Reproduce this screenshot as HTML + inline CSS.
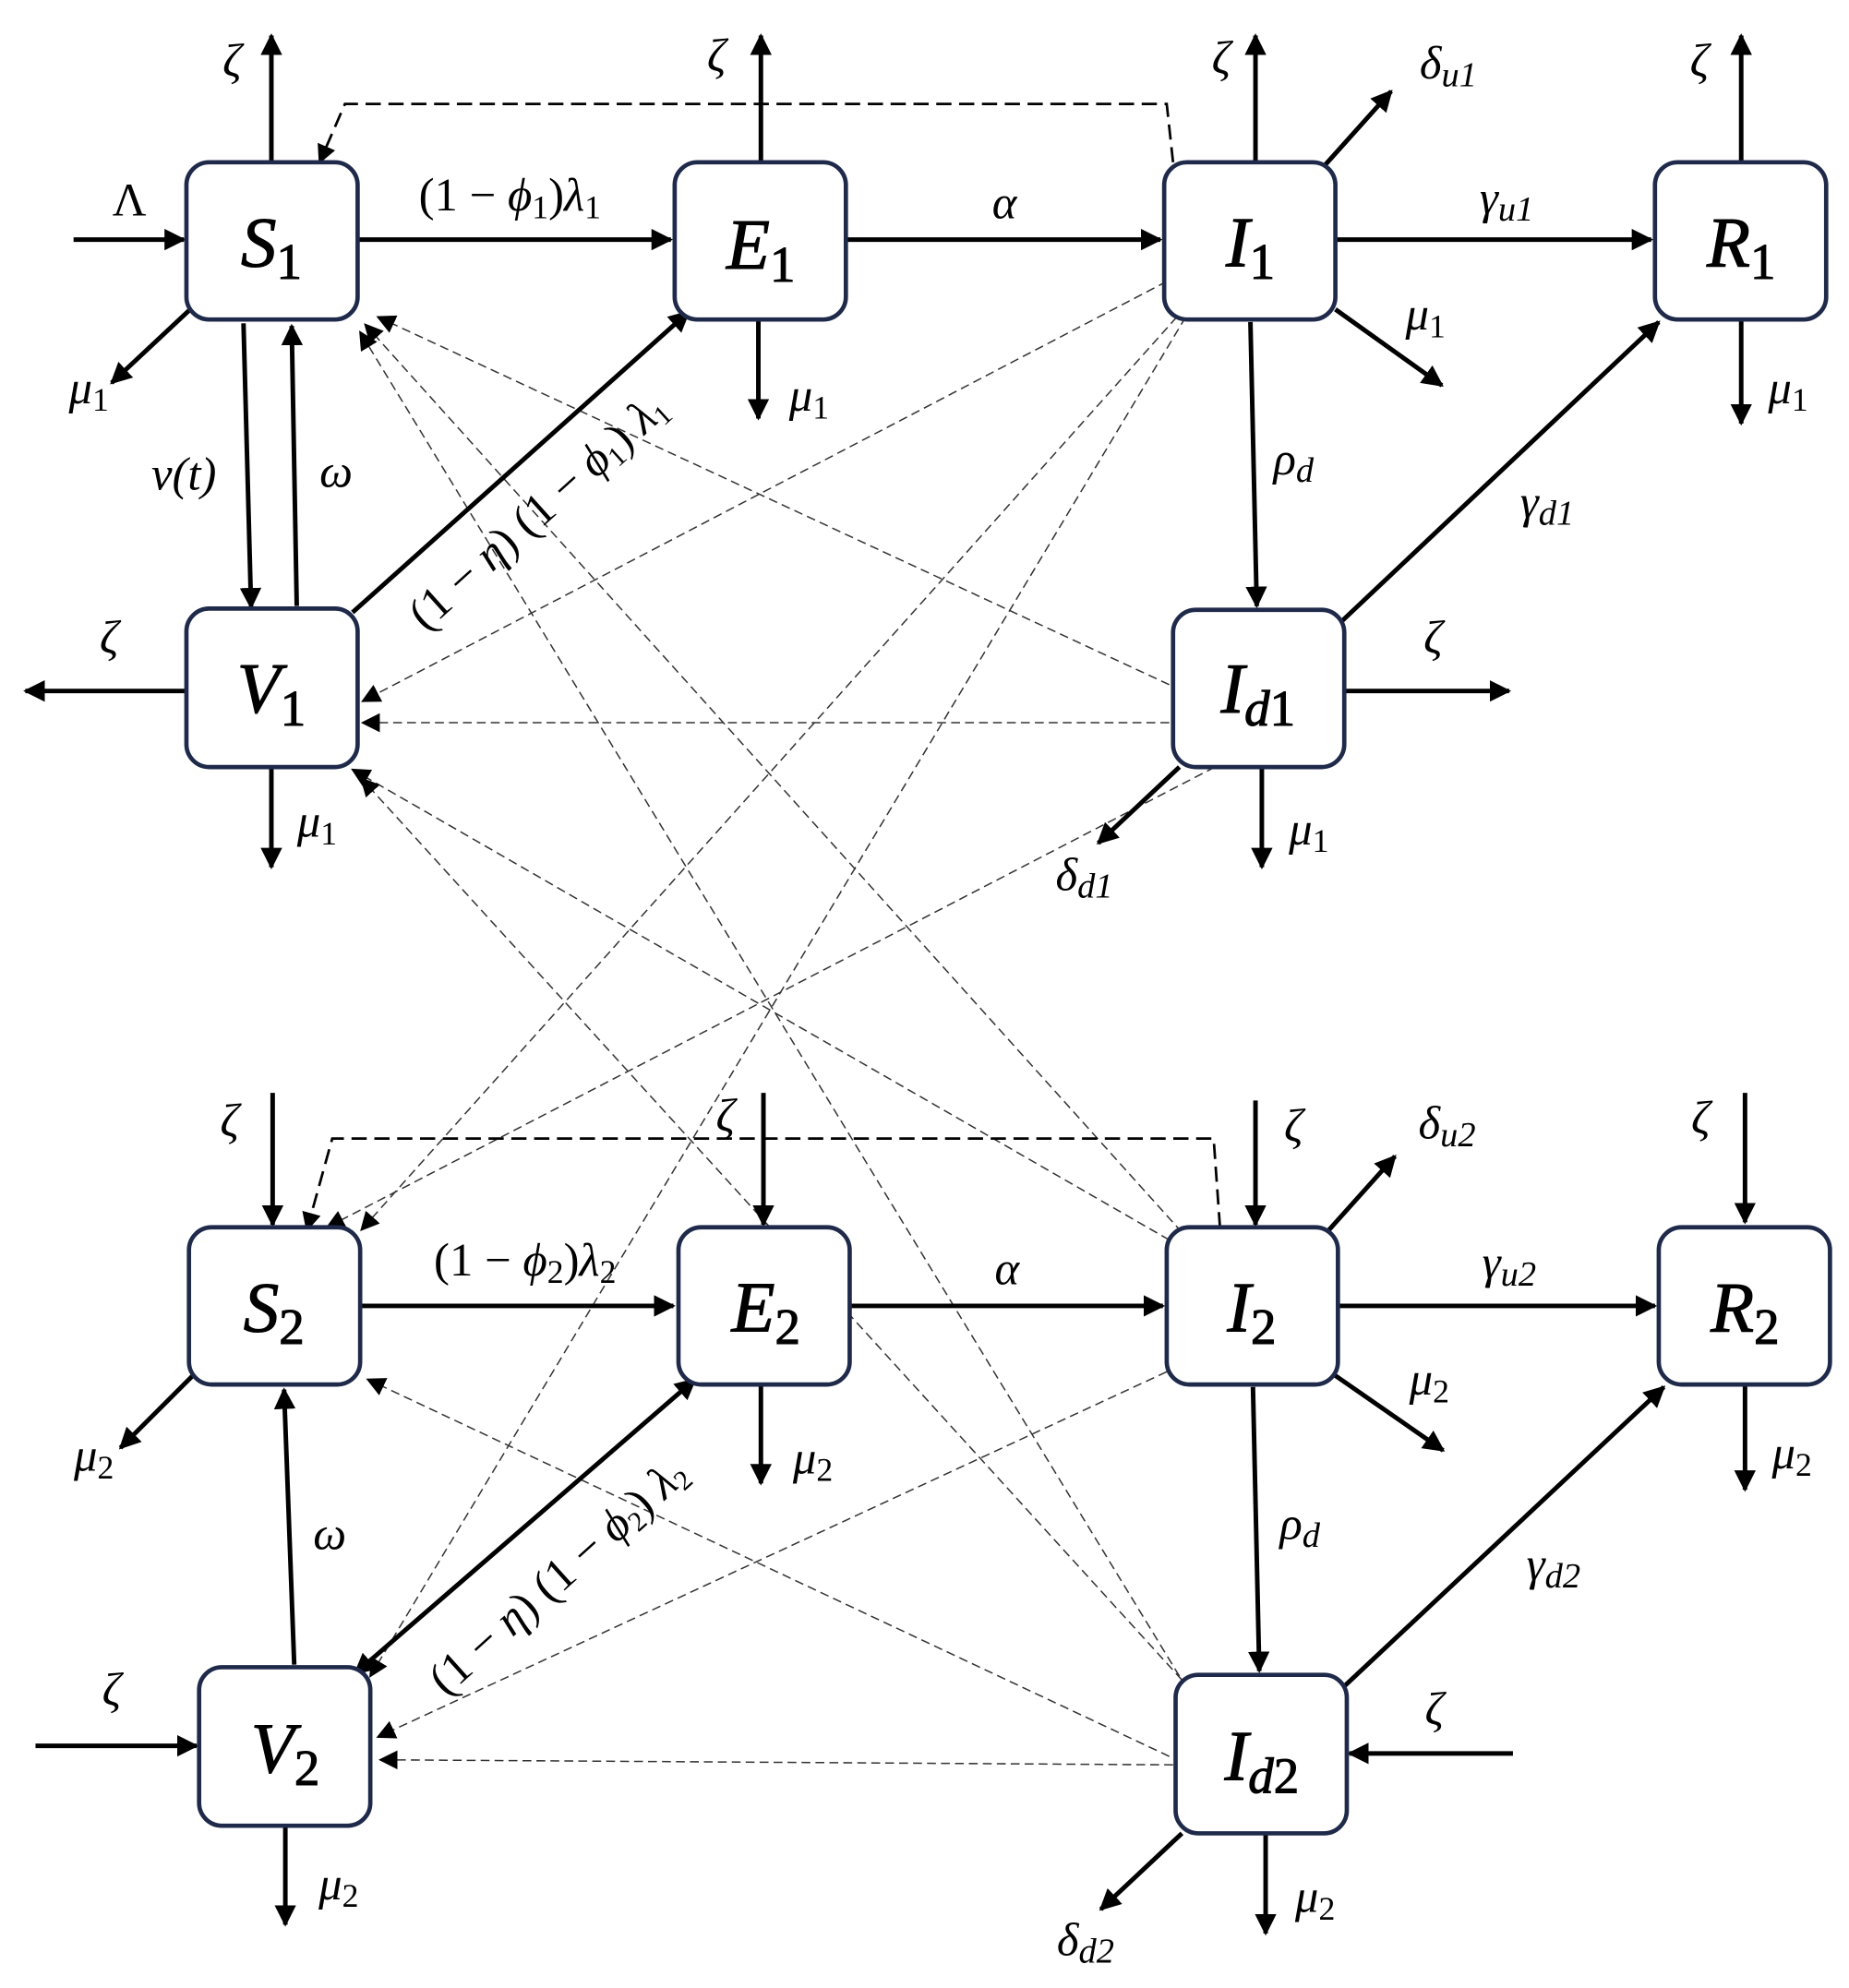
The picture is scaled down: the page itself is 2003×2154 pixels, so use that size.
<!DOCTYPE html>
<html><head><meta charset="utf-8"><style>
html,body{margin:0;padding:0;background:#fff}
svg{display:block}
text{font-family:"Liberation Serif","DejaVu Serif",serif;font-style:italic;fill:#000}
.b{font-size:56px}
.l{font-size:37px}
.s{font-style:normal;font-family:"Liberation Serif","DejaVu Serif",serif}
</style></head><body>
<svg width="2003" height="2154" viewBox="0 0 1458 1568" preserveAspectRatio="none" xmlns="http://www.w3.org/2000/svg">
<defs>
<marker id="a" viewBox="0 0 10 10" refX="9" refY="5" markerWidth="17" markerHeight="17" markerUnits="userSpaceOnUse" orient="auto"><path d="M0,0L10,5L0,10z" fill="#000"/></marker>
<marker id="as" viewBox="0 0 10 10" refX="9" refY="5" markerWidth="17" markerHeight="17" markerUnits="userSpaceOnUse" orient="auto-start-reverse"><path d="M0,0L10,5L0,10z" fill="#000"/></marker>
<marker id="d" viewBox="0 0 10 10" refX="9" refY="5" markerWidth="15" markerHeight="15" markerUnits="userSpaceOnUse" orient="auto"><path d="M0,0L10,5L0,10z" fill="#000"/></marker>
</defs>

<g stroke="#333" stroke-width="1.1" stroke-dasharray="7,4" fill="none" marker-end="url(#d)">
<line x1="922" y1="540" x2="298" y2="250"/>
<line x1="932" y1="972" x2="288" y2="256"/>
<line x1="930" y1="1322" x2="284" y2="262"/>
<line x1="920" y1="222" x2="286" y2="553"/>
<line x1="922" y1="570" x2="286" y2="570"/>
<line x1="922" y1="978" x2="278" y2="607"/>
<line x1="932" y1="1325" x2="285" y2="614"/>
<line x1="928" y1="250" x2="285" y2="970"/>
<line x1="958" y1="605" x2="258" y2="968"/>
<line x1="932" y1="1390" x2="290" y2="1088"/>
<line x1="935" y1="250" x2="292" y2="1322"/>
<line x1="920" y1="1082" x2="298" y2="1370"/>
<line x1="925" y1="1392" x2="300" y2="1388"/>
</g>
<g stroke="#000" stroke-width="2" stroke-dasharray="12,6" fill="none" marker-end="url(#d)">
<polyline points="925,128 920,82 272,82 252,128"/>
<polyline points="962,968 957,898 262,898 242,970"/>
</g>

<g stroke="#000" stroke-width="3.6" fill="none" marker-end="url(#a)">
<line x1="214" y1="128" x2="214" y2="28"/>
<line x1="58" y1="189" x2="145" y2="189"/>
<line x1="282" y1="189" x2="529" y2="189"/>
<line x1="150" y1="244" x2="88" y2="302"/>
<line x1="192" y1="255" x2="198" y2="479"/>
<line x1="234" y1="478" x2="230" y2="257"/>
<line x1="600" y1="128" x2="600" y2="28"/>
<line x1="598" y1="252" x2="598" y2="330"/>
<line x1="667" y1="189" x2="915" y2="189"/>
<line x1="990" y1="128" x2="990" y2="28"/>
<line x1="1045" y1="130" x2="1097" y2="72"/>
<line x1="1053" y1="189" x2="1302" y2="189"/>
<line x1="1053" y1="244" x2="1137" y2="304"/>
<line x1="986" y1="254" x2="991" y2="478"/>
<line x1="1373" y1="128" x2="1373" y2="28"/>
<line x1="1373" y1="252" x2="1373" y2="334"/>
<line x1="1058" y1="490" x2="1308" y2="254"/>
<line x1="278" y1="483" x2="543" y2="246"/>
<line x1="147" y1="545" x2="20" y2="545"/>
<line x1="214" y1="605" x2="214" y2="684"/>
<line x1="1060" y1="545" x2="1190" y2="545"/>
<line x1="995" y1="605" x2="995" y2="684"/>
<line x1="930" y1="605" x2="866" y2="665"/>

<line x1="215" y1="862" x2="215" y2="966"/>
<line x1="284" y1="1030" x2="531" y2="1030"/>
<line x1="152" y1="1085" x2="95" y2="1142"/>
<line x1="232" y1="1313" x2="224" y2="1096"/>
<line x1="602" y1="862" x2="602" y2="966"/>
<line x1="600" y1="1092" x2="600" y2="1170"/>
<line x1="670" y1="1030" x2="917" y2="1030"/>
<line x1="990" y1="868" x2="990" y2="966"/>
<line x1="1048" y1="970" x2="1100" y2="912"/>
<line x1="1055" y1="1030" x2="1305" y2="1030"/>
<line x1="1053" y1="1085" x2="1138" y2="1144"/>
<line x1="988" y1="1094" x2="993" y2="1318"/>
<line x1="1376" y1="862" x2="1376" y2="964"/>
<line x1="1376" y1="1092" x2="1376" y2="1175"/>
<line x1="1060" y1="1330" x2="1312" y2="1094"/>
<line x1="280" y1="1320" x2="548" y2="1088" marker-start="url(#as)"/>
<line x1="28" y1="1377" x2="155" y2="1377"/>
<line x1="225" y1="1440" x2="225" y2="1518"/>
<line x1="1193" y1="1383" x2="1064" y2="1383"/>
<line x1="998" y1="1446" x2="998" y2="1525"/>
<line x1="932" y1="1446" x2="868" y2="1506"/>
</g>

<g fill="#fff" stroke="#1f2a4a" stroke-width="3.4">
<rect x="147" y="128" width="135" height="124" rx="18"/>
<rect x="532" y="128" width="135" height="124" rx="18"/>
<rect x="918" y="128" width="135" height="124" rx="18"/>
<rect x="1305" y="128" width="135" height="124" rx="18"/>
<rect x="147" y="480" width="135" height="125" rx="18"/>
<rect x="925" y="481" width="135" height="124" rx="18"/>
<rect x="149" y="968" width="135" height="124" rx="18"/>
<rect x="535" y="968" width="135" height="124" rx="18"/>
<rect x="920" y="968" width="135" height="124" rx="18"/>
<rect x="1308" y="968" width="135" height="124" rx="18"/>
<rect x="157" y="1315" width="135" height="125" rx="18"/>
<rect x="927" y="1321" width="135" height="125" rx="18"/>
</g>

<g class="b" text-anchor="middle" stroke="#000" stroke-width="0.8">
<text x="214" y="210">S<tspan class="s" font-size="40" dy="10">1</tspan></text>
<text x="600" y="212">E<tspan class="s" font-size="40" dy="10">1</tspan></text>
<text x="986" y="210">I<tspan class="s" font-size="40" dy="10">1</tspan></text>
<text x="1373" y="210">R<tspan class="s" font-size="40" dy="10">1</tspan></text>
<text x="214" y="562">V<tspan class="s" font-size="40" dy="10">1</tspan></text>
<text x="992" y="562">I<tspan font-size="40" dy="10">d</tspan><tspan class="s" font-size="40">1</tspan></text>
<text x="216" y="1050">S<tspan class="s" font-size="40" dy="10">2</tspan></text>
<text x="604" y="1050">E<tspan class="s" font-size="40" dy="10">2</tspan></text>
<text x="987" y="1050">I<tspan class="s" font-size="40" dy="10">2</tspan></text>
<text x="1376" y="1050">R<tspan class="s" font-size="40" dy="10">2</tspan></text>
<text x="225" y="1398">V<tspan class="s" font-size="40" dy="10">2</tspan></text>
<text x="995" y="1404">I<tspan font-size="40" dy="10">d</tspan><tspan class="s" font-size="40">2</tspan></text>
</g>

<g class="l" text-anchor="middle">
<text x="183" y="60">ζ</text>
<text x="102" y="170" style="font-style:normal">Λ</text>
<text x="402" y="166" style="font-style:normal">(1 − <tspan font-style="italic">ϕ</tspan><tspan font-size="26" dy="6">1</tspan><tspan dy="-6">)</tspan><tspan font-style="italic">λ</tspan><tspan font-size="26" dy="6">1</tspan></text>
<text x="70" y="318">μ<tspan class="s" font-size="26" dy="6">1</tspan></text>
<text x="145" y="386">ν(t)</text>
<text x="265" y="384">ω</text>
<text x="565" y="56">ζ</text>
<text x="638" y="324">μ<tspan class="s" font-size="26" dy="6">1</tspan></text>
<text x="792" y="172">α</text>
<text x="963" y="58">ζ</text>
<text x="1142" y="62">δ<tspan font-size="28" dy="6">u1</tspan></text>
<text x="1188" y="168">γ<tspan font-size="28" dy="6">u1</tspan></text>
<text x="1124" y="260">μ<tspan class="s" font-size="26" dy="6">1</tspan></text>
<text x="1020" y="374">ρ<tspan font-size="28" dy="6">d</tspan></text>
<text x="1340" y="60">ζ</text>
<text x="1410" y="318">μ<tspan class="s" font-size="26" dy="6">1</tspan></text>
<text x="1220" y="408">γ<tspan font-size="28" dy="6">d1</tspan></text>
<text x="86" y="515">ζ</text>
<text x="250" y="660">μ<tspan class="s" font-size="26" dy="6">1</tspan></text>
<text x="1130" y="515">ζ</text>
<text x="1032" y="666">μ<tspan class="s" font-size="26" dy="6">1</tspan></text>
<text x="855" y="702">δ<tspan font-size="28" dy="6">d1</tspan></text>
<text transform="translate(432,412) rotate(-42)" style="font-style:normal">(1 − <tspan font-style="italic">η</tspan>) (1 − <tspan font-style="italic">ϕ</tspan><tspan font-size="22" dy="5">1</tspan><tspan dy="-5">)</tspan> <tspan font-style="italic">λ</tspan><tspan font-size="22" dy="5">1</tspan></text>

<text x="181" y="896">ζ</text>
<text x="414" y="1006" style="font-style:normal">(1 − <tspan font-style="italic">ϕ</tspan><tspan font-size="26" dy="6">2</tspan><tspan dy="-6">)</tspan><tspan font-style="italic">λ</tspan><tspan font-size="26" dy="6">2</tspan></text>
<text x="74" y="1160">μ<tspan class="s" font-size="26" dy="6">2</tspan></text>
<text x="260" y="1222">ω</text>
<text x="572" y="892">ζ</text>
<text x="641" y="1162">μ<tspan class="s" font-size="26" dy="6">2</tspan></text>
<text x="794" y="1013">α</text>
<text x="1020" y="900">ζ</text>
<text x="1141" y="898">δ<tspan font-size="28" dy="6">u2</tspan></text>
<text x="1190" y="1008">γ<tspan font-size="28" dy="6">u2</tspan></text>
<text x="1127" y="1100">μ<tspan class="s" font-size="26" dy="6">2</tspan></text>
<text x="1025" y="1214">ρ<tspan font-size="28" dy="6">d</tspan></text>
<text x="1341" y="894">ζ</text>
<text x="1413" y="1158">μ<tspan class="s" font-size="26" dy="6">2</tspan></text>
<text x="1225" y="1246">γ<tspan font-size="28" dy="6">d2</tspan></text>
<text x="88" y="1345">ζ</text>
<text x="267" y="1498">μ<tspan class="s" font-size="26" dy="6">2</tspan></text>
<text x="1131" y="1360">ζ</text>
<text x="1037" y="1508">μ<tspan class="s" font-size="26" dy="6">2</tspan></text>
<text x="856" y="1542">δ<tspan font-size="28" dy="6">d2</tspan></text>
<text transform="translate(448,1252) rotate(-42)" style="font-style:normal">(1 − <tspan font-style="italic">η</tspan>) (1 − <tspan font-style="italic">ϕ</tspan><tspan font-size="22" dy="5">2</tspan><tspan dy="-5">)</tspan> <tspan font-style="italic">λ</tspan><tspan font-size="22" dy="5">2</tspan></text>
</g>
</svg>
</body></html>
